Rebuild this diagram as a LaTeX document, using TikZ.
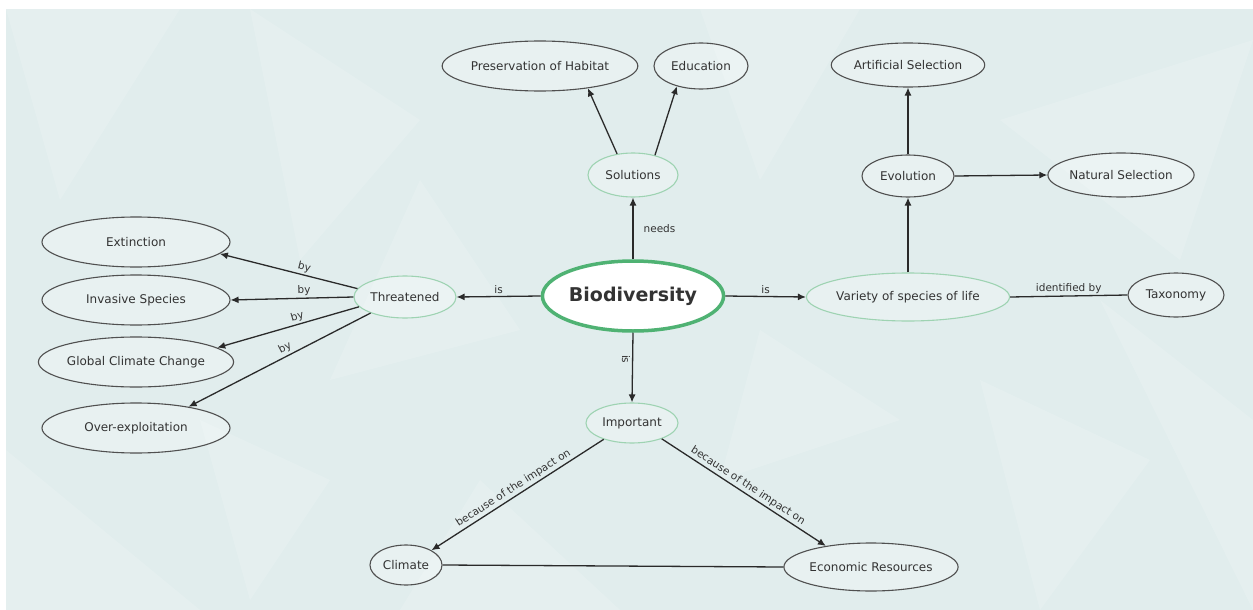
\documentclass[tikz,border=0pt]{standalone}
\usepackage{fontspec}
\setmainfont{DejaVu Sans}
\usetikzlibrary{shapes.geometric,arrows.meta}
\definecolor{bgc}{HTML}{E1EDED}
\definecolor{txt}{HTML}{333333}
\definecolor{edge}{HTML}{2A2A2A}
\definecolor{grayb}{HTML}{505050}
\definecolor{greenb}{HTML}{9ED3B2}
\definecolor{greenbig}{HTML}{4FB273}
\tikzset{
  concept/.style={ellipse, draw=grayb, line width=1.1pt, fill=white, fill opacity=0.25, text opacity=1, inner sep=0pt, text=txt, font=\fontsize{12}{14}\selectfont},
  gconcept/.style={concept, draw=greenb},
  mainconcept/.style={ellipse, draw=greenbig, line width=3.5pt, fill=white, inner sep=0pt, text=txt, font=\fontsize{19}{22}\selectfont\bfseries},
  link/.style={draw=edge, line width=1.3pt, -{Latex[length=8pt,width=7pt]}},
  plainlink/.style={draw=edge, line width=1.3pt},
  lab/.style={font=\fontsize{10.5}{12}\selectfont, text=txt, inner sep=2pt},
  facet/.style={fill=white, opacity=0.14, draw=none}
}
\begin{document}
\begin{tikzpicture}[x=1pt,y=-1pt]
\useasboundingbox (0,0) rectangle (1253,610);
\fill[white] (0,0) rectangle (1253,610);
\fill[bgc] (6,9) rectangle (1253,610);
% faint background facets
\fill[facet] (6,9) -- (180,9) -- (60,200) -- cycle;
\fill[facet] (250,9) -- (420,120) -- (300,260) -- cycle;
\fill[facet] (700,9) -- (860,9) -- (760,180) -- cycle;
\fill[facet] (1000,120) -- (1253,40) -- (1180,260) -- cycle;
\fill[facet] (6,450) -- (200,610) -- (6,610) -- cycle;
\fill[facet] (480,480) -- (620,610) -- (400,610) -- cycle;
\fill[facet] (980,380) -- (1150,460) -- (1040,610) -- cycle;
\fill[facet] (420,180) -- (520,330) -- (330,380) -- cycle;
\fill[facet] (760,330) -- (900,420) -- (720,480) -- cycle;
\fill[facet] (1100,300) -- (1253,420) -- (1253,610) -- cycle;
\fill[facet] (200,420) -- (330,480) -- (250,600) -- cycle;

% nodes
\node[mainconcept, minimum width=180pt, minimum height=70pt] (bio) at (633,296) {Biodiversity};
\node[gconcept, minimum width=102pt, minimum height=42pt] (thr) at (405,297) {Threatened};
\node[gconcept, minimum width=192pt, minimum height=48pt] (var) at (908,297) {Variety of species of life};
\node[concept, minimum width=96pt, minimum height=44pt] (tax) at (1176,295) {Taxonomy};
\node[gconcept, minimum width=90pt, minimum height=44pt] (sol) at (633,175) {Solutions};
\node[concept, minimum width=184pt, minimum height=50pt] (pres) at (540,66) {Preservation of Habitat};
\node[concept, minimum width=94pt, minimum height=46pt] (edu) at (701,66) {Education};
\node[concept, minimum width=150pt, minimum height=44pt] (art) at (908,65) {Artificial Selection};
\node[concept, minimum width=92pt, minimum height=42pt] (evo) at (908,176) {Evolution};
\node[concept, minimum width=142pt, minimum height=44pt] (nat) at (1121,175) {Natural Selection};
\node[concept, minimum width=188pt, minimum height=50pt] (ext) at (136,242) {Extinction};
\node[concept, minimum width=188pt, minimum height=50pt] (inv) at (136,300) {Invasive Species};
\node[concept, minimum width=188pt, minimum height=50pt] (gcc) at (136,362) {Global Climate Change};
\node[concept, minimum width=188pt, minimum height=50pt] (ovr) at (136,428) {Over-exploitation};
\node[gconcept, minimum width=92pt, minimum height=40pt] (imp) at (632,423) {Important};
\node[concept, minimum width=72pt, minimum height=40pt] (cli) at (406,565) {Climate};
\node[concept, minimum width=162pt, minimum height=48pt] (eco) at (871,567) {Economic Resources};

% connectors
\draw[link] (bio.west) -- node[lab, above] {is} (thr.east);
\draw[link] (bio.east) -- node[lab, above] {is} (var.west);
\draw[link] (bio.north) -- node[lab, right, xshift=8pt] {needs} (sol.south);
\draw[link] (bio.south) -- node[lab, pos=0.38, rotate=-90, anchor=north] {is} (imp.north);
\draw[plainlink] (var.east) -- node[lab, above] {identified by} (tax.west);
\draw[link] (var.north) -- (evo.south);
\draw[link] (evo.north) -- (art.south);
\draw[link] (evo.east) -- (nat.west);
\draw[link] (sol.127) -- (pres.-25);
\draw[link] (sol.42) -- (edu.-140);
\draw[link] (thr.170) -- node[lab, pos=0.4, sloped, above] {by} (ext.-8);
\draw[link] (thr.west) -- node[lab, pos=0.4, sloped, above] {by} (inv.east);
\draw[link] (thr.192) -- node[lab, pos=0.42, sloped, above] {by} (gcc.10);
\draw[link] (thr.205) -- node[lab, pos=0.45, sloped, above] {by} (ovr.22);
\draw[link] (imp.-150) -- node[lab, sloped, above] {because of the impact on} (cli.30);
\draw[link] (imp.-28) -- node[lab, sloped, above] {because of the impact on} (eco.155);
\draw[plainlink] (cli.east) -- (eco.west);
\end{tikzpicture}
\end{document}
